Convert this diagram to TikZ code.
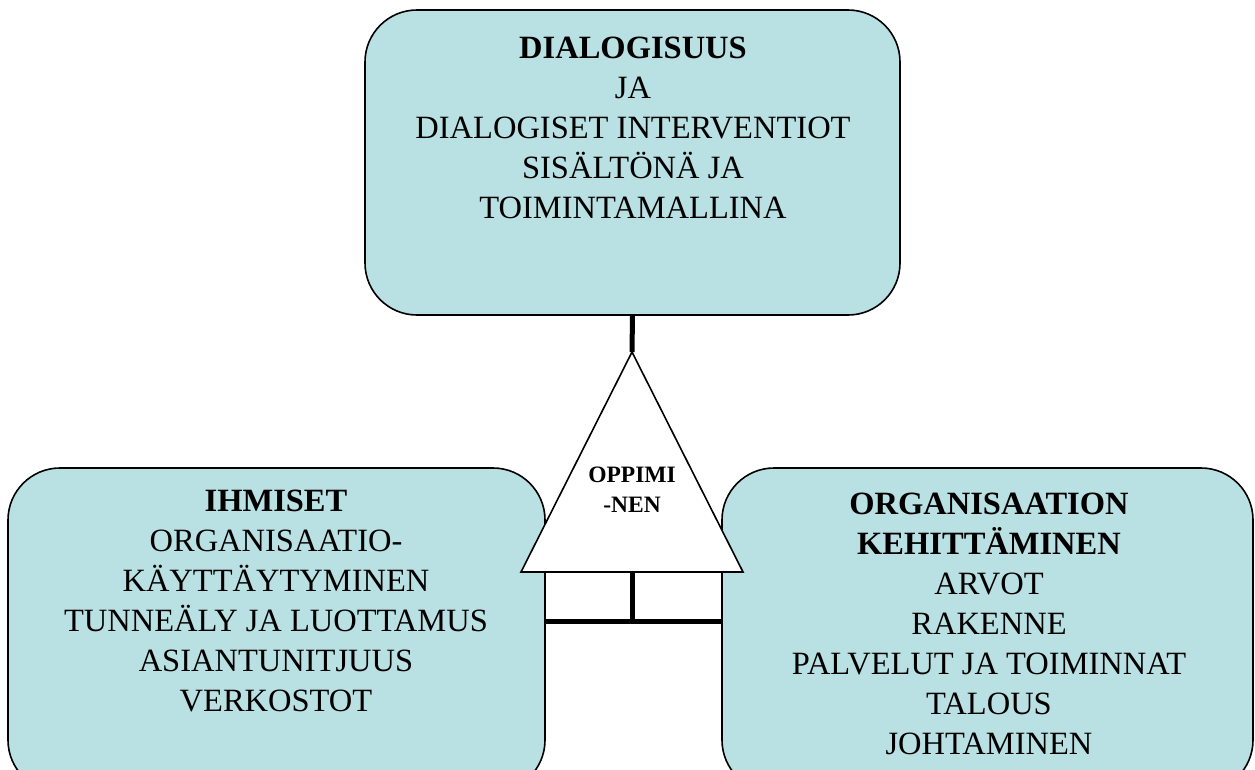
\documentclass[tikz,border=0pt]{standalone}
\usepackage{fontspec}
\setmainfont{Liberation Serif}
\definecolor{boxfill}{HTML}{B9E0E2}
\begin{document}
\begin{tikzpicture}[x=1pt,y=-1pt,
  box/.style={draw=black, line width=1.6pt, fill=boxfill, rounded corners=52pt,
    inner sep=0pt, outer sep=0pt, anchor=north west},
  txt/.style={anchor=north, align=center, inner sep=0pt, outer sep=0pt,
    font=\fontsize{32.5}{40}\selectfont},
  small/.style={anchor=north, align=center, inner sep=0pt, outer sep=0pt,
    font=\bfseries\fontsize{23.5}{30}\selectfont},
  link/.style={line width=5pt},
  tri/.style={draw=black, line width=1.6pt, fill=white, line join=miter}]
\useasboundingbox (0,0) rectangle (1255,769);
\clip (0,0) rectangle (1255,769);
% boxes
\node[box, minimum width=535pt, minimum height=305pt] (topbox) at (365,10) {};
\node[box, minimum width=537pt, minimum height=324pt] (leftbox) at (8,468) {};
\node[box, minimum width=531pt, minimum height=324pt] (rightbox) at (722,468) {};
% texts
\node[txt] (toptext) at (633,36.5) {\textbf{DIALOGISUUS}\\JA\\DIALOGISET INTERVENTIOT\\SISÄLTÖNÄ JA\\TOIMINTAMALLINA};
\node[txt] (lefttext) at (276,489.5) {\textbf{IHMISET}\\ORGANISAATIO-\\KÄYTTÄYTYMINEN\\TUNNEÄLY JA LUOTTAMUS\\ASIANTUNITJUUS\\VERKOSTOT};
\node[txt] (righttext) at (989,492.5) {\textbf{ORGANISAATION}\\\textbf{KEHITTÄMINEN}\\ARVOT\\RAKENNE\\PALVELUT JA TOIMINNAT\\TALOUS\\JOHTAMINEN};
% triangle
\coordinate (apex) at (632,352);
\coordinate (bl) at (521,572);
\coordinate (br) at (743,572);
\coordinate (basemid) at (632,572);
\coordinate (junction) at (632,621);
\draw[link] (topbox.south) -- (apex);
\draw[link] (basemid) -- (junction);
\draw[link] (leftbox.east |- junction) -- (rightbox.west |- junction);
\draw[tri] (apex) -- (br) -- (bl) -- cycle;
\node[small] (oppi) at (632,467) {OPPIMI\\-NEN};
\end{tikzpicture}
\end{document}
